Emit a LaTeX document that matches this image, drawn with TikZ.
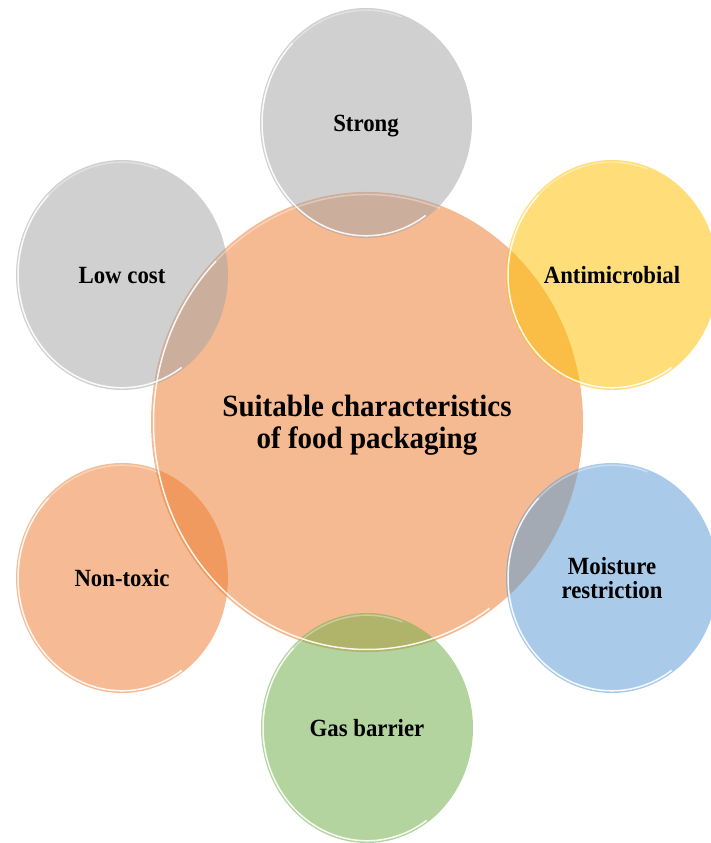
\documentclass[tikz,border=0pt]{standalone}
\usepackage{fontspec}
\setmainfont{Liberation Serif}
\definecolor{hubOrange}{HTML}{ED7D31}
\definecolor{ringGray}{HTML}{A5A5A5}
\definecolor{ringGold}{HTML}{FFC000}
\definecolor{ringBlue}{HTML}{5B9BD5}
\definecolor{ringGreen}{HTML}{70AD47}
% white glossy rim along the lower-left edge of a bubble
\newcommand\bubblerim[3]{%
  \draw[rimline] ([shift={(135:#2 and #3)}]#1.center)
    arc[start angle=135,end angle=305,x radius=#2,y radius=#3];
  \draw[rimline,draw opacity=0.35] ([shift={(70:#2 and #3)}]#1.center)
    arc[start angle=70,end angle=135,x radius=#2,y radius=#3];}
\begin{document}
\begin{tikzpicture}[x=1pt,y=1pt,
  hub/.style={circle,inner sep=0pt,minimum size=432pt,yscale=1.065,
    fill=hubOrange,fill opacity=0.53,text opacity=1,align=center,
    text depth=0pt,font=\bfseries\fontsize{29}{30}\selectfont},
  bubble/.style={circle,inner sep=0pt,minimum size=212pt,yscale=1.085,
    fill opacity=0.52,text opacity=1,align=center,
    text depth=0pt,font=\bfseries\fontsize{22.8}{22}\selectfont},
  rimline/.style={draw=white,line width=1.5pt,draw opacity=0.9}]
\useasboundingbox (0,0) rectangle (711,843);

\node[hub] (core) at (367,421) {Suitable characteristics\\of food packaging};

\node[bubble,fill=ringGray]  (strong)   at (366,720) {Strong};
\node[bubble,fill=ringGold]  (antimic)  at (612,568) {Antimicrobial};
\node[bubble,fill=ringGray]  (lowcost)  at (122,568) {Low cost};
\node[bubble,fill=hubOrange] (nontoxic) at (122,265) {Non-toxic};
\node[bubble,fill=ringBlue]  (moisture) at (612,265) {Moisture\\restriction};
\node[bubble,fill=ringGreen] (gas)      at (367,115) {Gas barrier};

\bubblerim{core}{213.5}{227.5}
\bubblerim{strong}{104}{112.8}
\bubblerim{antimic}{104}{112.8}
\bubblerim{lowcost}{104}{112.8}
\bubblerim{nontoxic}{104}{112.8}
\bubblerim{moisture}{104}{112.8}
\bubblerim{gas}{104}{112.8}
\end{tikzpicture}
\end{document}
